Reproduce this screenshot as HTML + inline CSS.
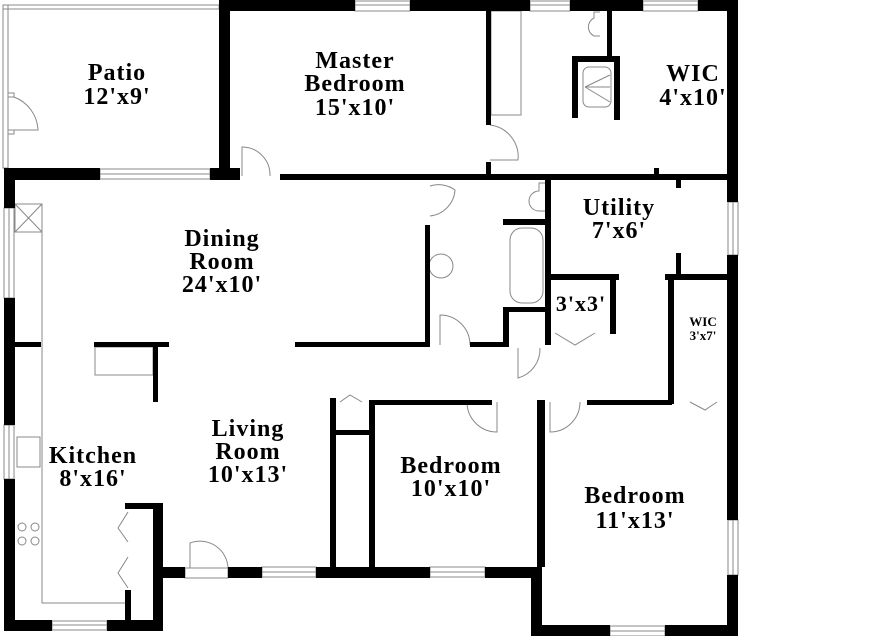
<!DOCTYPE html>
<html><head><meta charset="utf-8"><style>
html,body{margin:0;padding:0;background:#fff;}
svg{display:block}
text{font-family:"Liberation Serif",serif;font-weight:bold;fill:#000;text-anchor:middle;letter-spacing:1px}
</style></head><body>
<svg width="873" height="636" viewBox="0 0 873 636" xmlns="http://www.w3.org/2000/svg">
<rect width="873" height="636" fill="#fff"/>
<g fill="none" stroke="#888" stroke-width="1">
<rect x="3" y="5" width="216" height="4"/>
<rect x="3" y="5" width="5" height="163"/>
<path d="M8 93 h6 v4 h-6 M8 130 h6 v4 h-6"/>
<path d="M14 97 A37 37 0 0 1 38 130 L14 130"/>
<rect x="100" y="169" width="110" height="10"/><line x1="100" y1="174" x2="210" y2="174"/>
<rect x="4" y="208" width="10" height="90"/><line x1="9" y1="208" x2="9" y2="298"/>
<rect x="4" y="425" width="10" height="54"/><line x1="9" y1="425" x2="9" y2="479"/>
<rect x="52" y="621" width="55" height="9"/><line x1="52" y1="625" x2="107" y2="625"/>
<rect x="262" y="567" width="54" height="10"/><line x1="262" y1="572" x2="316" y2="572"/>
<rect x="430" y="567" width="55" height="10"/><line x1="430" y1="572" x2="485" y2="572"/>
<rect x="610" y="626" width="55" height="10"/><line x1="610" y1="631" x2="665" y2="631"/>
<rect x="728" y="520" width="10" height="55"/><line x1="733" y1="520" x2="733" y2="575"/>
<rect x="728" y="202" width="10" height="53"/><line x1="733" y1="202" x2="733" y2="255"/>
<rect x="355" y="1" width="55" height="10"/><line x1="355" y1="5" x2="410" y2="5"/>
<rect x="530" y="1" width="40" height="10"/><line x1="530" y1="5" x2="570" y2="5"/>
<rect x="643" y="1" width="55" height="10"/><line x1="643" y1="5" x2="698" y2="5"/>
<path d="M242 176 V147 A28 28 0 0 1 270 176"/>
<path d="M490 125 A32 32 0 0 1 518 160 H490"/>
<path d="M430 186 A28 28 0 0 1 455 190 A28 28 0 0 1 430 216"/>
<path d="M440 345 V315 A30 30 0 0 1 470 345"/>
<path d="M518 348 V378 A30 30 0 0 0 540 348"/>
<path d="M497 402 V432 A30 30 0 0 1 467 402"/>
<path d="M550 402 V432 A30 30 0 0 0 580 402"/>
<path d="M190 568 V543 A28 28 0 0 1 228 568 M185 568 h43 v10 h-43 z"/>
<path d="M555 333 L575 345 L595 333 M690 402 L705 410 L717 402 M340 402 L350 395 L362 402"/>
<path d="M128 512 L118 528 L128 542 M128 557 L118 573 L128 588"/>
<rect x="510" y="228" width="33" height="75" rx="12"/>
<circle cx="441" cy="266" r="12"/>
<path d="M545 183 h-6 v8 a10 10 0 0 0 0 20 h6 M600 12 h-6 v6 a10 10 0 0 0 0 18 h6"/>
<rect x="583" y="67" width="28" height="40" rx="6"/>
<path d="M585 87 L610 75 M585 87 H610 M585 87 L610 102"/>
<rect x="491" y="11" width="30" height="104"/>
<path d="M15 204 h27 v28 h-27 z M15 204 L42 232 M42 204 L15 232"/>
<path d="M15 232 H42 V603 H128 V610"/>
<rect x="17" y="437" width="23" height="30"/>
<circle cx="22" cy="527" r="4"/><circle cx="35" cy="527" r="4"/><circle cx="22" cy="541" r="4"/><circle cx="35" cy="541" r="4"/>
<rect x="95" y="347" width="58" height="28"/>
<line x1="372" y1="440" x2="372" y2="555"/>
</g>
<g fill="#000">
<rect x="219" y="0" width="136" height="11"/>
<rect x="410" y="0" width="120" height="11"/>
<rect x="570" y="0" width="73" height="11"/>
<rect x="698" y="0" width="40" height="11"/>
<rect x="219" y="0" width="11" height="180"/>
<rect x="727" y="0" width="11" height="202"/>
<rect x="727" y="255" width="11" height="265"/>
<rect x="727" y="575" width="11" height="61"/>
<rect x="4" y="168" width="96" height="12"/>
<rect x="210" y="168" width="30" height="12"/>
<rect x="280" y="174" width="447" height="6"/>
<rect x="4" y="168" width="11" height="40"/>
<rect x="4" y="298" width="11" height="127"/>
<rect x="4" y="479" width="11" height="152"/>
<rect x="4" y="620" width="48" height="11"/>
<rect x="107" y="620" width="56" height="11"/>
<rect x="153" y="503" width="10" height="128"/>
<rect x="125" y="503" width="38" height="6"/>
<rect x="125" y="590" width="6" height="33"/>
<rect x="160" y="567" width="25" height="11"/>
<rect x="228" y="567" width="34" height="11"/>
<rect x="316" y="567" width="114" height="11"/>
<rect x="485" y="567" width="57" height="11"/>
<rect x="531" y="567" width="11" height="69"/>
<rect x="531" y="625" width="79" height="11"/>
<rect x="665" y="625" width="73" height="11"/>
<rect x="15" y="342" width="26" height="5"/>
<rect x="94" y="342" width="75" height="5"/>
<rect x="153" y="342" width="5" height="60"/>
<rect x="295" y="342" width="135" height="5"/>
<rect x="425" y="225" width="5" height="122"/>
<rect x="470" y="342" width="38" height="5"/>
<rect x="503" y="307" width="6" height="40"/>
<rect x="503" y="307" width="48" height="5"/>
<rect x="503" y="219" width="48" height="6"/>
<rect x="545" y="180" width="6" height="165"/>
<rect x="551" y="274" width="68" height="6"/>
<rect x="610" y="274" width="6" height="60"/>
<rect x="676" y="253" width="5" height="25"/>
<rect x="665" y="274" width="62" height="6"/>
<rect x="668" y="274" width="6" height="130"/>
<rect x="676" y="180" width="5" height="8"/>
<rect x="587" y="400" width="85" height="5"/>
<rect x="537" y="400" width="8" height="167"/>
<rect x="372" y="400" width="120" height="5"/>
<rect x="369" y="400" width="6" height="167"/>
<rect x="330" y="398" width="6" height="170"/>
<rect x="336" y="430" width="36" height="5"/>
<rect x="486" y="11" width="5" height="114"/>
<rect x="486" y="162" width="5" height="16"/>
<rect x="607" y="11" width="5" height="47"/>
<rect x="572" y="56" width="48" height="6"/>
<rect x="572" y="56" width="6" height="62"/>
<rect x="614" y="56" width="6" height="64"/>
<rect x="654" y="168" width="5" height="8"/>
</g>
<g font-size="24">
<text x="117" y="80">Patio</text>
<text x="117" y="104">12'x9'</text>
<text x="355" y="68">Master</text>
<text x="355" y="91">Bedroom</text>
<text x="355" y="115">15'x10'</text>
<text x="693" y="81">WIC</text>
<text x="693" y="105">4'x10'</text>
<text x="222" y="246">Dining</text>
<text x="222" y="269">Room</text>
<text x="222" y="292">24'x10'</text>
<text x="619" y="215">Utility</text>
<text x="619" y="238">7'x6'</text>
<text x="581" y="311" font-size="22">3'x3'</text>
<text x="93" y="463">Kitchen</text>
<text x="93" y="486">8'x16'</text>
<text x="248" y="436">Living</text>
<text x="248" y="459">Room</text>
<text x="248" y="482">10'x13'</text>
<text x="451" y="473">Bedroom</text>
<text x="451" y="496">10'x10'</text>
<text x="635" y="503">Bedroom</text>
<text x="635" y="528">11'x13'</text>
</g>
<text x="703" y="326" font-size="13" style="letter-spacing:0">WIC</text>
<text x="703" y="340" font-size="13" style="letter-spacing:0">3'x7'</text>
</svg>
</body></html>
